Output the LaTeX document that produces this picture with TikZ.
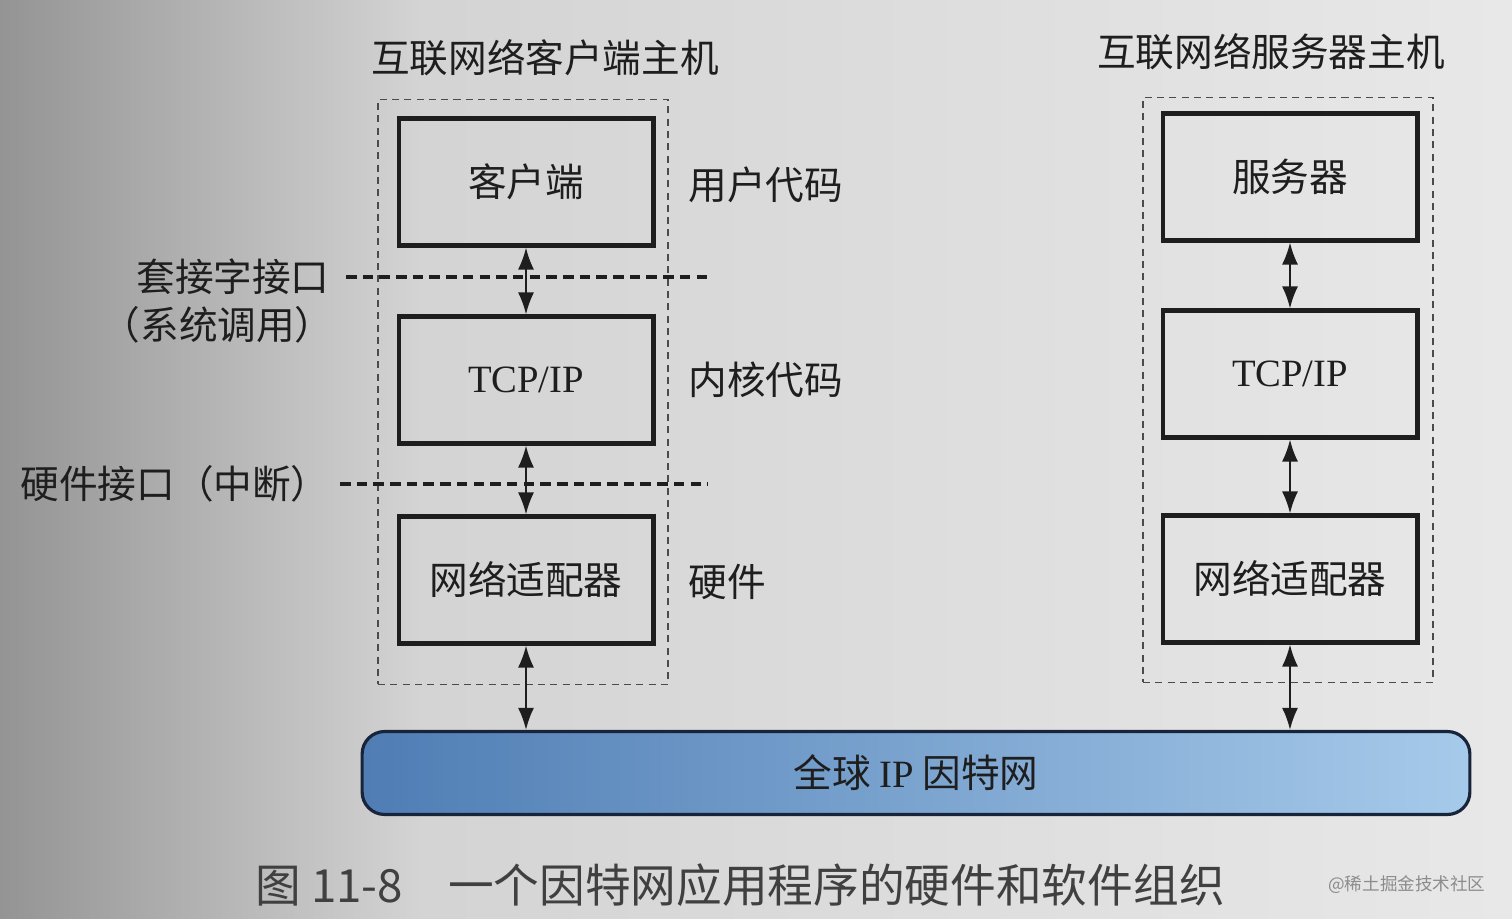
\documentclass[tikz,border=0pt]{standalone}
\usepackage{fontspec}
\setmainfont{Liberation Serif}
\newfontfamily\cjk{Noto Sans CJK SC}
\usetikzlibrary{arrows.meta}
\definecolor{ink}{HTML}{1E1E1E}
\definecolor{barL}{HTML}{4F7DB4}
\definecolor{barR}{HTML}{A6CAEA}
\definecolor{barEdge}{HTML}{18243A}
\tikzset{
  layerbox/.style={draw=ink, line width=2.3pt, minimum width=5.1cm, minimum height=2.54cm, inner sep=0pt, font=\cjk\fontsize{22}{24}\selectfont, text=ink},
  hostbox/.style={draw=ink!80, line width=0.8pt, dash pattern=on 4pt off 3pt},
  iface/.style={draw=ink, line width=2.2pt, dash pattern=on 6pt off 3.5pt},
  lbl/.style={font=\cjk\fontsize{22}{24}\selectfont, text=ink, inner sep=0pt},
  link/.style={draw=ink, line width=1.2pt, {Latex[length=4.4mm,width=3.2mm]}-{Latex[length=4.4mm,width=3.2mm]}}
}
\begin{document}
\begin{tikzpicture}[x=0.02cm,y=-0.02cm]
\useasboundingbox (0,0) rectangle (1512,919);
% paper background
\shade[left color=black!42, right color=black!17] (0,0) rectangle (420,919);
\shade[left color=black!17, right color=black!9] (420,0) rectangle (1512,919);

% titles
\node[lbl] (tL) at (545,58) {互联网络客户端主机};
\node[lbl] (tR) at (1271,52) {互联网络服务器主机};

% host frames
\node[hostbox, minimum width=5.8cm, minimum height=11.7cm] (hostL) at (523,392) {};
\node[hostbox, minimum width=5.8cm, minimum height=11.7cm] (hostR) at (1288,390) {};

% client stack
\node[layerbox] (client) at (526,182) {客户端};
\node[layerbox] (ctcp) at (526,380) {\fontsize{22}{24}\selectfont\rmfamily TCP/IP};
\node[layerbox] (cnet) at (526,580) {网络适配器};

% server stack
\node[layerbox] (server) at (1290,177) {服务器};
\node[layerbox] (stcp) at (1290,374) {\fontsize{22}{24}\selectfont\rmfamily TCP/IP};
\node[layerbox] (snet) at (1290,579) {网络适配器};

% right-side labels
\node[lbl, anchor=west] (user) at (688,185) {用户代码};
\node[lbl, anchor=west] (kern) at (688,380) {内核代码};
\node[lbl, anchor=west] (hw) at (688,582) {硬件};

% left-side labels
\node[lbl, anchor=east] (sock) at (330,277) {套接字接口};
\node[lbl, anchor=east] (sys) at (334,325) {（系统调用）};
\node[lbl, anchor=east] (hwif) at (330,484) {硬件接口（中断）};

% interface lines
\coordinate (sockA) at (346,277);
\coordinate (sockB) at (708,277);
\coordinate (hwA) at (340,484);
\coordinate (hwB) at (708,484);
\draw[iface] (sockA) -- (sockB);
\draw[iface] (hwA) -- (hwB);

% global network bar
\node[draw=barEdge, line width=1.8pt, rounded corners=0.45cm, left color=barL, right color=barR,
      minimum width=22.16cm, minimum height=1.66cm, inner sep=0pt,
      font=\cjk\fontsize{22}{24}\selectfont, text=ink] (net) at (916,773)
      {全球 {\rmfamily IP} 因特网};

% links
\draw[link] (client.south) -- (ctcp.north);
\draw[link] (ctcp.south) -- (cnet.north);
\draw[link] (cnet.south) -- (cnet.south |- net.north);
\draw[link] (server.south) -- (stcp.north);
\draw[link] (stcp.south) -- (snet.north);
\draw[link] (snet.south) -- (snet.south |- net.north);

% caption
\node[anchor=west, inner sep=0pt, text=ink!85, font=\cjk\fontsize{26}{28}\selectfont] (cap) at (255,885)
  {图 11-8\hspace{0.9cm}一个因特网应用程序的硬件和软件组织};

% watermark
\node[anchor=west, inner sep=0pt, text=black!45, font=\cjk\fontsize{10}{12}\selectfont] (wm) at (1328,885) {@稀土掘金技术社区};
\end{tikzpicture}
\end{document}
